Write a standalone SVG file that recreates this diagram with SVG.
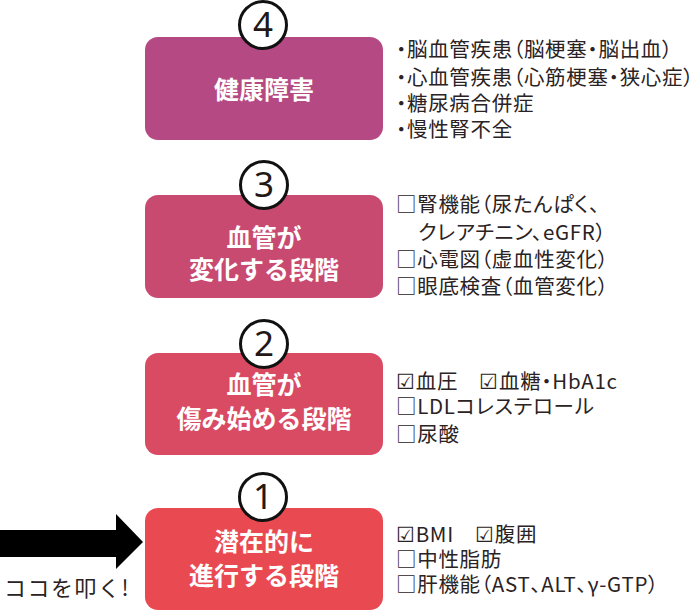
<svg xmlns="http://www.w3.org/2000/svg" width="700" height="611" viewBox="0 0 700 611">
<style>
.box-label{font-family:"Noto Sans CJK JP","Noto Sans",sans-serif;font-weight:700;font-size:25px;fill:#ffffff;text-anchor:middle}
.num{font-family:"Noto Sans","Open Sans",sans-serif;font-size:35px;fill:#231815;text-anchor:middle}
.ring{fill:#ffffff;stroke:#111111;stroke-width:3}
.desc{font-family:"Noto Sans CJK JP","Noto Sans",sans-serif;font-size:20.5px;fill:#2a2223;font-feature-settings:"palt";letter-spacing:0.7px}
.callout{font-family:"Noto Sans CJK JP","Noto Sans",sans-serif;font-size:22px;fill:#2a2223;letter-spacing:1.5px}
</style>
<rect width="700" height="611" fill="#ffffff"/>
<g id="connectors">
<polygon points="0,530 116,530 116,514 143,542 116,569 116,557 0,557" fill="#000000"/>
</g>
<g id="node-4">
<rect x="145" y="37" width="238" height="103" rx="13" fill="#b54983"/>
<text class="box-label" x="264" y="99">健康障害</text>
<circle class="ring" cx="263" cy="25" r="23.5"/>
<text class="num" x="263" y="37">4</text>
<text class="desc" x="396" y="57">・脳血管疾患（脳梗塞・脳出血）</text>
<text class="desc" x="396" y="85">・心血管疾患（心筋梗塞・狭心症）</text>
<text class="desc" x="396" y="111">・糖尿病合併症</text>
<text class="desc" x="396" y="137">・慢性腎不全</text>
</g>
<g id="node-3">
<rect x="145" y="195" width="238" height="103" rx="13" fill="#c94a71"/>
<text class="box-label" x="264" y="247">血管が</text>
<text class="box-label" x="264" y="279">変化する段階</text>
<circle class="ring" cx="264" cy="185" r="23.5"/>
<text class="num" x="264" y="197">3</text>
<text class="desc" x="396" y="212">□腎機能（尿たんぱく、</text>
<text class="desc" x="418" y="240">クレアチニン、eGFR）</text>
<text class="desc" x="396" y="267">□心電図（虚血性変化）</text>
<text class="desc" x="396" y="294">□眼底検査（血管変化）</text>
</g>
<g id="node-2">
<rect x="145" y="353" width="238" height="102" rx="13" fill="#d94a63"/>
<text class="box-label" x="264" y="394">血管が</text>
<text class="box-label" x="264" y="428">傷み始める段階</text>
<circle class="ring" cx="264" cy="344" r="23.5"/>
<text class="num" x="264" y="356">2</text>
<text class="desc" x="396" y="389">☑血圧　☑血糖・HbA1c</text>
<text class="desc" x="396" y="414">□LDLコレステロール</text>
<text class="desc" x="396" y="442">□尿酸</text>
</g>
<g id="node-1">
<rect x="145" y="508" width="238" height="102" rx="13" fill="#e94a52"/>
<text class="box-label" x="264" y="551">潜在的に</text>
<text class="box-label" x="264" y="585">進行する段階</text>
<circle class="ring" cx="263" cy="497" r="23.5"/>
<text class="num" x="263" y="509">1</text>
<text class="desc" x="396" y="542">☑BMI　☑腹囲</text>
<text class="desc" x="396" y="567">□中性脂肪</text>
<text class="desc" x="396" y="592">□肝機能（AST、ALT、γ-GTP）</text>
</g>
<g id="callout">
<text class="callout" x="4" y="596">ココを叩く!</text>
</g>
</svg>
